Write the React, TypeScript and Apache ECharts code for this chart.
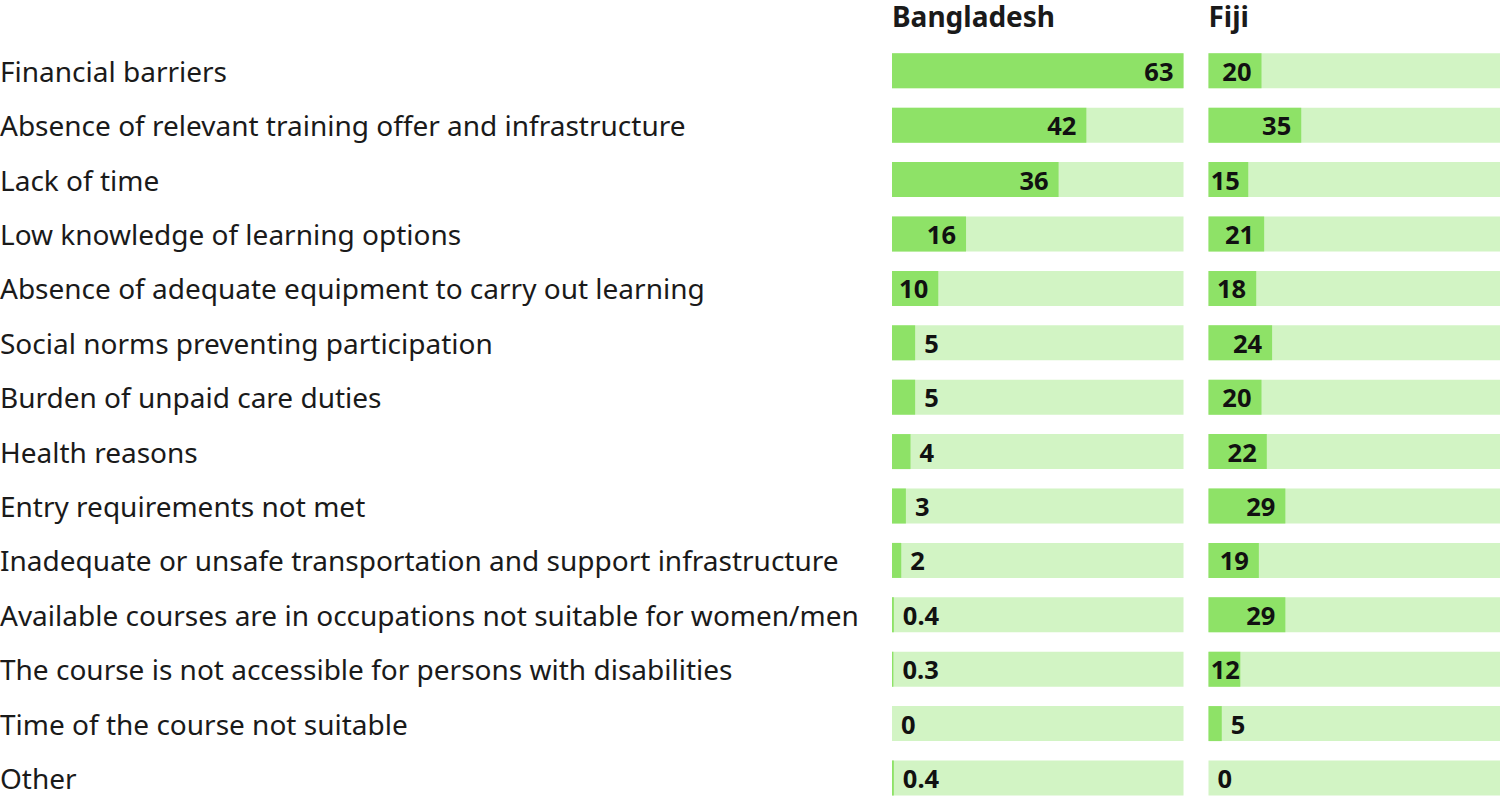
import React, { useEffect, useRef } from "react";
import * as echarts from "echarts";

// Barriers to participation in training, share of respondents (%)
const categories = [
  "Financial barriers",
  "Absence of relevant training offer and infrastructure",
  "Lack of time",
  "Low knowledge of learning options",
  "Absence of adequate equipment to carry out learning",
  "Social norms preventing participation",
  "Burden of unpaid care duties",
  "Health reasons",
  "Entry requirements not met",
  "Inadequate or unsafe transportation and support infrastructure",
  "Available courses are in occupations not suitable for women/men",
  "The course is not accessible for persons with disabilities",
  "Time of the course not suitable",
  "Other",
];

const bangladeshValues = [63, 42, 36, 16, 10, 5, 5, 4, 3, 2, 0.4, 0.3, 0, 0.4];
const fijiValues = [20, 35, 15, 21, 18, 24, 20, 22, 29, 19, 29, 12, 5, 0];

const panelNames = ["Bangladesh", "Fiji"];
const panelMax = [63, 110];

const WIDTH = 1500;
const HEIGHT = 801;
const FONT = "'Noto Sans', 'Open Sans', sans-serif";
const DARK = "#8ee267";
const LIGHT = "#d2f4c4";
const TEXT = "#1a1a1a";

const ROW_H = 54.4;
const GRID_TOP = 43.6;
const PANEL_W = 291.5;
const PANEL_LEFT = [892, 1208.5];
const LABEL_SIZE = 25.5;
const INSIDE_FROM = 10;

// Values of 10 and above carry their label inside the bar end;
// smaller ones get it just to the right of the bar.
function buildData(values: number[], max: number) {
  return values.map((v) => {
    const barPx = (v / max) * PANEL_W;
    const labelW = String(v).length * LABEL_SIZE * 0.575;
    const inside = v >= INSIDE_FROM;
    return {
      value: v,
      label: inside
        ? {
            position: "insideRight",
            distance: Math.max(0, Math.min(10, barPx - labelW - 2)),
          }
        : { position: "right", distance: 9 },
    };
  });
}

export default function App() {
  const ref = useRef<HTMLDivElement>(null);

  useEffect(() => {
    if (!ref.current) return;
    const chart = echarts.init(ref.current, null, { renderer: "svg" });
    const gridHeight = ROW_H * categories.length;
    const seriesValues = [bangladeshValues, fijiValues];

    chart.setOption({
      animation: false,
      backgroundColor: "#ffffff",
      textStyle: { fontFamily: FONT },
      grid: PANEL_LEFT.map((left) => ({
        left,
        top: GRID_TOP,
        width: PANEL_W,
        height: gridHeight,
        containLabel: false,
        outerBoundsMode: "none",
      })),
      xAxis: panelMax.map((max, i) => ({
        type: "value",
        gridIndex: i,
        min: 0,
        max,
        show: false,
      })),
      yAxis: PANEL_LEFT.map((left, i) => ({
        type: "category",
        gridIndex: i,
        data: categories,
        inverse: true,
        axisLine: { show: false },
        axisTick: { show: false },
        splitLine: { show: false },
        axisLabel: {
          show: i === 0,
          align: "left",
          margin: left,
          fontSize: 28,
          color: TEXT,
          fontFamily: FONT,
        },
      })),
      graphic: panelNames.map((name, i) => ({
        type: "text",
        x: PANEL_LEFT[i],
        y: 16,
        style: {
          text: name,
          font: `bold 28px ${FONT}`,
          fill: TEXT,
          verticalAlign: "middle",
        },
      })),
      series: seriesValues.map((vals, i) => ({
        type: "bar",
        name: panelNames[i],
        xAxisIndex: i,
        yAxisIndex: i,
        barWidth: 35,
        showBackground: true,
        backgroundStyle: { color: LIGHT },
        itemStyle: { color: DARK },
        label: {
          show: true,
          fontSize: LABEL_SIZE,
          fontWeight: "bold",
          fontFamily: FONT,
          color: "#111111",
        },
        data: buildData(vals, panelMax[i]),
      })),
    });

    return () => chart.dispose();
  }, []);

  return (
    <div
      ref={ref}
      style={{
        position: "fixed",
        left: 0,
        top: 0,
        width: WIDTH,
        height: HEIGHT,
        background: "#ffffff",
      }}
    />
  );
}
